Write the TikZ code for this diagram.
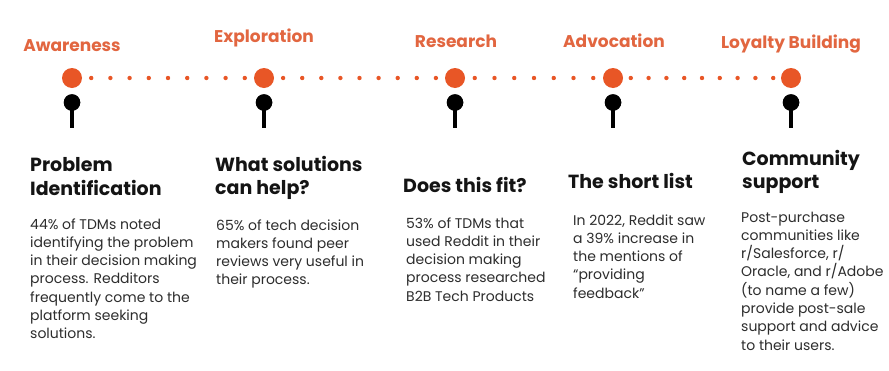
\documentclass[tikz,border=0pt]{standalone}
\usepackage{fontspec}
\setmainfont{Poppins}
\usetikzlibrary{calc}
\definecolor{rorange}{RGB}{232,86,38}
\definecolor{labelc}{RGB}{226,102,64}
\definecolor{headc}{RGB}{20,20,20}
\definecolor{bodyc}{RGB}{45,45,45}
\tikzset{
  stage/.style={font=\bfseries\fontsize{17}{20}\selectfont, text=labelc, anchor=base, inner sep=0pt},
  bigdot/.style={circle, fill=rorange, minimum size=20pt, inner sep=0pt},
  pinhead/.style={circle, fill=black, minimum size=16.5pt, inner sep=0pt},
  stemline/.style={line width=3.5pt, black},
  head/.style={font=\bfseries\fontsize{19}{23.3}\selectfont, text=headc, anchor=base west, inner sep=0pt, align=left},
  body/.style={font=\fontsize{14}{18.3}\selectfont, text=bodyc, anchor=base west, inner sep=0pt, align=left},
}
\begin{document}
\begin{tikzpicture}[x=1pt,y=-1pt]
\useasboundingbox[fill=white] (0,0) rectangle (889,370);

% stage labels
\node[stage] (l1) at (72,51) {Awareness};
\node[stage] (l2) at (264,42) {Exploration};
\node[stage] (l3) at (456,47) {Research};
\node[stage] (l4) at (614,47) {Advocation};
\node[stage] (l5) at (791,48) {Loyalty Building};

% timeline dots
\node[bigdot] (d1) at (72,78) {};
\node[bigdot] (d2) at (264,78) {};
\node[bigdot] (d3) at (455,78) {};
\node[bigdot] (d4) at (613,78) {};
\node[bigdot] (d5) at (791,78) {};
\foreach \a/\b/\n in {d1/d2/9, d2/d3/9, d3/d4/7, d4/d5/9}{
  \foreach \k in {1,...,\n}{
    \fill[rorange] ($(\a)!{\k/(\n+1)}!(\b)$) circle (2.2pt);
  }
}

% pins
\foreach \i/\x in {1/72, 2/264, 3/455, 4/613, 5/791}{
  \coordinate (s\i) at (\x,128);
  \node[pinhead] (p\i) at (\x,102.5) {};
  \draw[stemline] (p\i.center) -- (s\i);
  \node[pinhead] at (p\i) {};
}

% headings (anchor = baseline of last line)
\node[head] (h1) at (30,195) {Problem\\Identification};
\node[head] (h2) at (215,194.3) {What solutions\\can help?};
\node[head] (h3) at (403,192) {Does this fit?};
\node[head] (h4) at (568,188) {The short list};
\node[head] (h5) at (742,188.3) {Community\\support};

% body texts (anchor = baseline of last line)
\node[body] (b1) at (30,338.8) {44\% of TDMs noted\\identifying the problem\\in their decision making\\process. Redditors\\frequently come to the\\platform seeking\\solutions.};
\node[body] (b2) at (216,284.9) {65\% of tech decision\\makers found peer\\reviews very useful in\\their process.};
\node[body] (b3) at (406,301.2) {53\% of TDMs that\\used Reddit in their\\decision making\\process researched\\B2B Tech Products};
\node[body] (b4) at (573,298.2) {In 2022, Reddit saw\\a 39\% increase in\\the mentions of\\“providing\\feedback”};
\node[body] (b5) at (741,350.1) {Post-purchase\\communities like\\r/Salesforce, r/\\Oracle, and r/Adobe\\(to name a few)\\provide post-sale\\support and advice\\to their users.};
\end{tikzpicture}
\end{document}
